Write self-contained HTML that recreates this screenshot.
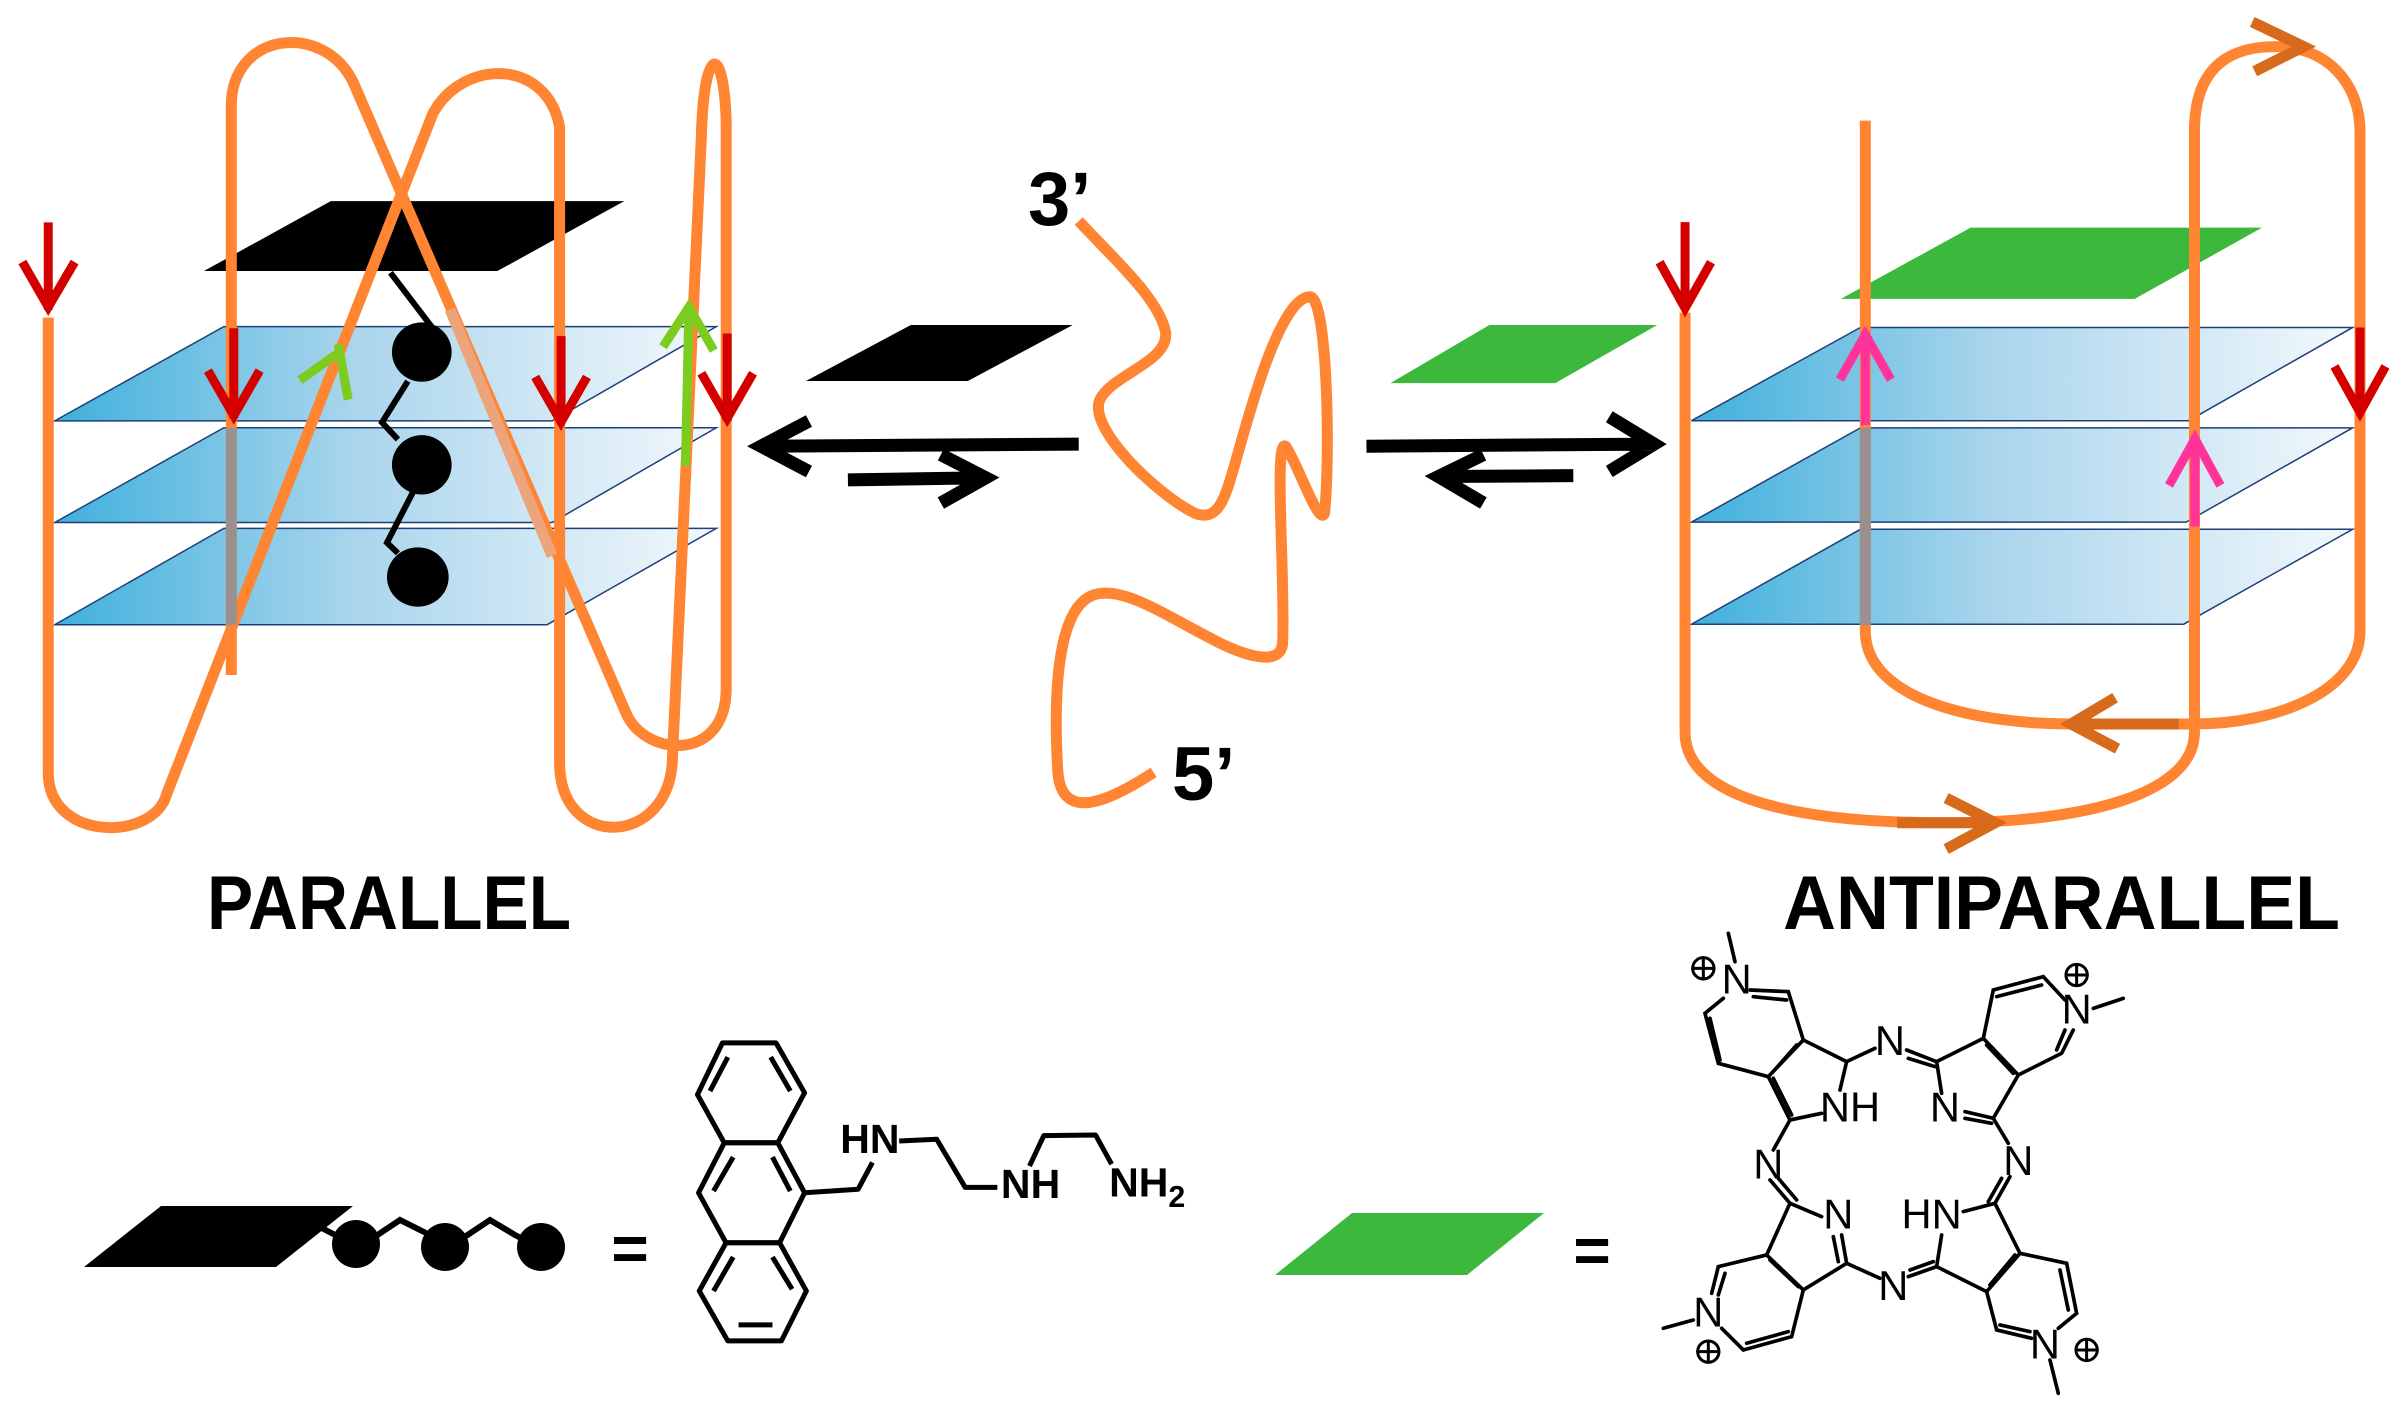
<!DOCTYPE html>
<html><head><meta charset="utf-8"><style>
html,body{margin:0;padding:0;background:#fff;}
svg{display:block;}
text{font-family:"Liberation Sans",sans-serif;}
.ns path,.ns line,.ns polyline,.ns polygon{vector-effect:non-scaling-stroke;}
</style></head><body>
<svg width="2408" height="1411" viewBox="0 0 2408 1411" xmlns="http://www.w3.org/2000/svg">
<defs>
<linearGradient id="pl" x1="0" y1="0" x2="1" y2="0">
<stop offset="0" stop-color="#3fb0dc"/><stop offset="0.45" stop-color="#a9d5ec"/><stop offset="1" stop-color="#f3f8fc"/>
</linearGradient>
</defs>
<rect width="2408" height="1411" fill="#fff"/>

<!-- PARALLEL -->
<g class="ns" transform="scale(0.4974,0.5294)">
<g fill="url(#pl)" stroke="#1f3f7a" stroke-width="1.5">
<polygon points="110,795 1110,795 1440,617 450,617"/>
<polygon points="110,987 1110,987 1440,808 450,808"/>
<polygon points="110,1180 1100,1180 1440,998 450,998"/>
</g>
<polygon points="410,512 1000,512 1255,380 665,380" fill="#000"/>
<g fill="none">
<path d="M97,600 V1460 C97,1590 310,1590 335,1500 L870,215 C930,110 1100,110 1125,240 V1440 C1125,1610 1350,1600 1352,1430 L1410,260 C1415,80 1455,80 1460,230 V1300 C1460,1440 1300,1430 1260,1350 L710,155 C650,40 465,60 465,200 V1275" stroke="#ff8533" stroke-width="11"/>
<line x1="465" y1="808" x2="465" y2="1180" stroke="#9a9090" stroke-width="11"/>
<line x1="905" y1="585" x2="1110" y2="1050" stroke="#eba47c" stroke-width="11"/>
</g>
<line x1="785" y1="515" x2="870" y2="620" stroke="#000" stroke-width="6"/>
<polyline points="820,720 768,798 800,830" fill="none" stroke="#000" stroke-width="6"/>
<polyline points="830,930 778,1025 800,1045" fill="none" stroke="#000" stroke-width="6"/>
<ellipse cx="848" cy="665" rx="60" ry="56"/>
<ellipse cx="848" cy="878" rx="60" ry="56"/>
<ellipse cx="840" cy="1090" rx="62" ry="56"/>
<g stroke="#d40000" stroke-width="9" fill="none">
<path d="M97,420 V585 M45,495 L97,580 L150,495"/>
<path d="M470,620 V790 M418,700 L470,785 L522,700"/>
<path d="M1128,635 V800 M1076,712 L1128,797 L1180,712"/>
<path d="M1462,630 V795 M1410,705 L1462,790 L1514,705"/>
</g>
<g stroke="#7ccc1f" stroke-width="9" fill="none">
<path d="M1378,880 L1385,580 M1333,655 L1385,580 L1435,662"/>
<path d="M603,718 L675,670 M680,650 L700,755"/>
</g>
</g>

<!-- CENTER -->
<g class="ns" transform="translate(740,160) scale(0.5995,0.4209)">
<path d="M565,145 C620,230 700,330 710,410 C715,480 620,510 600,570 C580,640 700,800 760,840 C800,860 810,800 830,700 C850,600 900,330 950,325 C980,320 985,700 975,840 C965,870 930,720 910,680 C890,660 910,1000 905,1150 C900,1210 830,1170 790,1140 C720,1090 650,1020 600,1030 C540,1040 520,1200 530,1450 C535,1580 620,1520 690,1455" fill="none" stroke="#ff8533" stroke-width="11"/>
<polygon points="110,525 380,525 555,392 285,392" fill="#000"/>
<polygon points="1085,530 1360,530 1530,392 1250,392" fill="#3cb83c"/>
<g fill="none" stroke="#000" stroke-width="13">
<path d="M565,675 L35,680 M115,620 L35,680 L115,740"/>
<path d="M180,760 L410,755 M335,700 L410,755 L335,815"/>
<path d="M1045,680 L1525,675 M1450,610 L1525,675 L1450,740"/>
<path d="M1390,750 L1165,752 M1240,700 L1165,752 L1240,815"/>
</g>
</g>
<text x="1028" y="225" font-size="76" font-weight="bold">3’</text>
<text x="1172" y="800" font-size="76" font-weight="bold">5’</text>

<!-- ANTIPARALLEL -->
<g class="ns" transform="translate(1640,0) scale(0.4898,0.5485)">
<g fill="url(#pl)" stroke="#1f3f7a" stroke-width="1.5">
<polygon points="105,767 1120,767 1455,597 450,597"/>
<polygon points="105,952 1115,952 1455,780 450,780"/>
<polygon points="105,1138 1110,1138 1455,965 450,965"/>
</g>
<polygon points="410,545 1010,545 1270,415 675,415" fill="#3cb83c"/>
<g fill="none" stroke="#ff8533" stroke-width="11">
<path d="M92,570 V1335 C92,1450 300,1500 620,1500 C900,1500 1132,1450 1132,1335 V240 C1132,90 1250,85 1300,85 C1400,85 1470,150 1470,240 V1150 C1470,1260 1300,1320 1130,1320 L880,1320 C700,1320 460,1280 460,1150 V220"/>
</g>
<line x1="460" y1="780" x2="460" y2="1140" stroke="#9a9090" stroke-width="11"/>
<g stroke="#d86a1c" stroke-width="11" fill="none">
<path d="M1250,40 L1355,85 L1255,130"/>
<path d="M970,1272 L880,1320 L975,1365 M880,1320 H1100"/>
<path d="M625,1455 L725,1500 L625,1548 M525,1500 H725"/>
</g>
<g stroke="#d40000" stroke-width="9" fill="none">
<path d="M92,405 V565 M40,478 L92,562 L145,478"/>
<path d="M1470,597 V755 M1418,668 L1470,752 L1522,668"/>
</g>
<g stroke="#ff3399" stroke-width="9" fill="none">
<path d="M460,775 V605 M408,692 L460,610 L512,692"/>
<path d="M1133,960 V795 M1080,885 L1133,800 L1185,885"/>
</g>
</g>

<text x="207" y="929" font-size="76" font-weight="bold" textLength="364" lengthAdjust="spacingAndGlyphs">PARALLEL</text>
<text x="1783" y="929" font-size="76" font-weight="bold" textLength="557" lengthAdjust="spacingAndGlyphs">ANTIPARALLEL</text>

<!-- LEGEND -->
<polygon points="84,1267 161,1206 353,1206 276,1267" fill="#000"/>
<polyline points="310,1222 345,1240" stroke="#000" stroke-width="6" fill="none"/>
<polyline points="370,1240 400,1220 420,1230 440,1240" stroke="#000" stroke-width="6" fill="none"/>
<polyline points="460,1240 490,1220 515,1235 535,1245" stroke="#000" stroke-width="6" fill="none"/>
<circle cx="356" cy="1244" r="24"/><circle cx="445" cy="1247" r="24"/><circle cx="541" cy="1247" r="24"/>
<text x="630" y="1270" font-size="64" font-weight="bold" text-anchor="middle">=</text>
<polygon points="1275,1275 1352,1213 1544,1213 1467,1275" fill="#3cb83c"/>
<text x="1592" y="1272" font-size="64" font-weight="bold" text-anchor="middle">=</text>

<!-- anthracene -->
<g transform="translate(660,1000) scale(0.357)" stroke="#000" stroke-width="14" fill="none" stroke-linejoin="round">
<polygon points="175,120 325,120 405,260 330,400 180,400 105,265"/>
<polygon points="180,400 330,400 405,540 335,680 185,680 108,540"/>
<polygon points="185,680 335,680 410,815 340,955 190,955 110,815"/>
<line x1="140" y1="255" x2="190" y2="160"/><line x1="310" y1="160" x2="365" y2="255"/>
<line x1="150" y1="535" x2="205" y2="440"/><line x1="315" y1="440" x2="365" y2="535"/>
<line x1="150" y1="815" x2="205" y2="720"/><line x1="315" y1="720" x2="370" y2="810"/>
<line x1="220" y1="910" x2="315" y2="910"/>
<polyline points="405,540 555,530 595,455"/>
<polyline points="670,395 775,390 855,525 945,525"/>
<polyline points="1035,465 1075,380 1220,378 1265,460"/>
<g stroke="none" fill="#000" font-size="115" font-weight="bold">
<text x="505" y="428">HN</text>
<text x="955" y="555">NH</text>
<text x="1258" y="550">NH<tspan font-size="85" dy="30">2</tspan></text>
</g>
</g>

<!-- phthalocyanine -->
<g transform="translate(1640,930) scale(0.3333)" stroke="#000" stroke-width="11" fill="none" stroke-linecap="round">
<path d="M265,10 L285,95 M330,180 L445,185 L490,330 L385,440 L235,400 L195,250 L250,205 M340,200 L440,210 M240,390 L210,265 M470,345 L395,430"/>
<path d="M490,330 L620,395 L600,480 M385,440 L450,570 L545,550 M400,445 L455,555"/>
<path d="M620,395 L705,355 M800,360 L890,395 M805,385 L885,410"/>
<path d="M890,395 L1030,325 L1135,435 L1060,565 L975,545 M905,490 L890,395 M1040,345 L1120,430 M975,565 L1055,580"/>
<path d="M1030,325 L1060,180 L1210,140 L1275,210 M1300,300 L1265,370 L1135,435 M1070,200 L1205,165 M1275,300 L1250,360 M1360,235 L1450,205"/>
<path d="M1060,565 L1105,640 M1110,740 L1065,820 M1085,745 L1045,815"/>
<path d="M1065,820 L970,845 M1065,820 L1140,970 L1040,1085 L890,1010 L905,915 M1125,975 L1050,1065"/>
<path d="M1140,970 L1280,1000 L1310,1150 L1255,1195 M1175,1225 L1070,1200 L1040,1085 M1260,1020 L1285,1140 M1170,1205 L1080,1185 M1230,1290 L1255,1390"/>
<path d="M890,1010 L805,1040 M810,1020 L880,995 M720,1045 L620,1000 L490,1080 M620,1000 L605,915 M595,995 L580,920 M545,860 L450,820 L380,975 L490,1080 M390,990 L475,1070"/>
<path d="M380,975 L235,1010 L215,1090 M245,1195 L310,1260 L455,1220 L490,1080 M255,1030 L235,1095 M320,1240 L445,1205 M70,1195 L160,1170"/>
<path d="M450,570 L400,660 M390,750 L450,820 M415,745 L470,810"/>
<g stroke="none" fill="#000" font-size="125" text-anchor="middle">
<text x="290" y="190">N</text>
<text x="1310" y="280">N</text>
<text x="750" y="375">N</text>
<text x="630" y="575">NH</text>
<text x="915" y="575">N</text>
<text x="385" y="745">N</text>
<text x="1135" y="735">N</text>
<text x="595" y="895">N</text>
<text x="875" y="895">HN</text>
<text x="760" y="1110">N</text>
<text x="205" y="1190">N</text>
<text x="1215" y="1285">N</text>
</g>
<g stroke-width="9">
<circle cx="190" cy="115" r="32"/><path d="M158,115 H222 M190,83 V147"/>
<circle cx="1310" cy="135" r="32"/><path d="M1278,135 H1342 M1310,103 V167"/>
<circle cx="205" cy="1265" r="32"/><path d="M173,1265 H237 M205,1233 V1297"/>
<circle cx="1340" cy="1260" r="32"/><path d="M1308,1260 H1372 M1340,1228 V1292"/>
</g>
</g>
</svg>
</body></html>
